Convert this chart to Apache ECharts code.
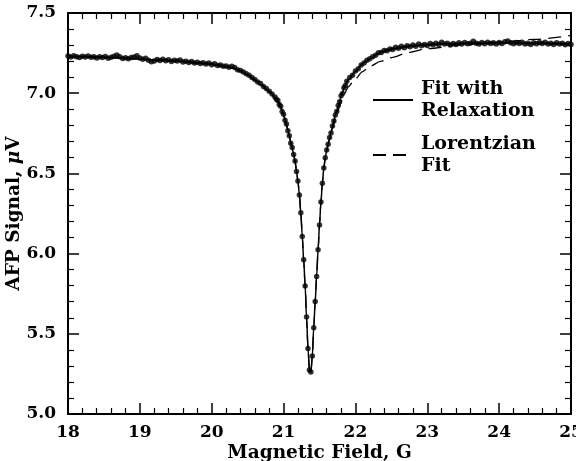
<!DOCTYPE html>
<html>
<head>
<meta charset="utf-8">
<script src="https://cdn.jsdelivr.net/npm/echarts@6/dist/echarts.min.js"></script>
<style>html,body{margin:0;padding:0;background:#fff}#c{width:576px;height:461px}</style>
</head>
<body>
<div id="c"></div>
<script>
// ---- data ----
var xTicks = [18, 19, 20, 21, 22, 23, 24, 25];
var yTicks = ['5.0', '5.5', '6.0', '6.5', '7.0', '7.5'];

var dataField = [
18.00,18.04,18.08,18.12,18.16,18.20,18.24,18.28,18.32,18.36,18.40,18.44,18.48,18.52,18.56,18.60,18.64,18.68,18.72,18.76,
18.80,18.84,18.88,18.92,18.96,19.00,19.04,19.08,19.12,19.16,19.20,19.24,19.28,19.32,19.36,19.40,19.44,19.48,19.52,19.56,
19.60,19.64,19.68,19.72,19.76,19.80,19.84,19.88,19.92,19.96,20.00,20.04,20.08,20.12,20.16,20.20,20.24,20.28,20.32,20.36,
20.40,20.44,20.48,20.52,20.56,20.60,20.64,20.68,20.72,20.76,20.80,20.84,20.88,
20.90,20.92,20.94,20.96,20.98,21.00,21.02,21.04,21.06,21.08,21.10,21.12,21.14,21.16,21.18,21.20,21.22,21.24,21.26,21.28,
21.30,21.32,21.34,21.36,21.38,21.40,21.42,21.44,21.46,21.48,21.50,21.52,21.54,21.56,21.58,21.60,21.62,21.64,21.66,21.68,
21.70,21.72,21.74,21.76,21.78,21.80,21.82,21.84,21.86,21.88,
21.92,21.96,22.00,22.04,22.08,22.12,22.16,22.20,22.24,22.28,22.32,22.36,22.40,22.44,22.48,22.52,22.56,22.60,22.64,22.68,
22.72,22.76,22.80,22.84,22.88,22.92,22.96,23.00,23.04,23.08,23.12,23.16,23.20,23.24,23.28,23.32,23.36,23.40,23.44,23.48,
23.52,23.56,23.60,23.64,23.68,23.72,23.76,23.80,23.84,23.88,23.92,23.96,24.00,24.04,24.08,24.12,24.16,24.20,24.24,24.28,
24.32,24.36,24.40,24.44,24.48,24.52,24.56,24.60,24.64,24.68,24.72,24.76,24.80,24.84,24.88,24.92,24.96,25.00
];
var dataSignal = [
7.232,7.226,7.234,7.228,7.222,7.230,7.225,7.232,7.224,7.228,7.219,7.227,7.222,7.229,7.218,7.224,7.230,7.238,7.228,7.216,
7.221,7.214,7.222,7.226,7.234,7.219,7.212,7.218,7.206,7.196,7.201,7.210,7.204,7.211,7.203,7.208,7.198,7.205,7.200,7.207,
7.194,7.199,7.192,7.197,7.188,7.193,7.185,7.190,7.182,7.188,7.178,7.184,7.172,7.176,7.168,7.170,7.162,7.168,7.160,7.146,
7.142,7.132,7.122,7.112,7.098,7.086,7.070,7.060,7.042,7.030,7.012,6.995,6.976,
6.962,6.955,6.930,6.918,6.886,6.868,6.832,6.808,6.766,6.734,6.688,6.662,6.618,6.578,6.512,6.452,6.366,6.254,6.106,5.962,
5.798,5.604,5.408,5.274,5.262,5.362,5.538,5.702,5.858,6.024,6.178,6.322,6.438,6.534,6.598,6.646,6.682,6.724,6.752,6.796,
6.826,6.864,6.886,6.924,6.946,6.984,6.998,7.034,7.048,7.074,
7.098,7.112,7.138,7.152,7.176,7.188,7.206,7.214,7.228,7.236,7.252,7.254,7.266,7.264,7.276,7.272,7.286,7.280,7.292,7.284,
7.296,7.290,7.300,7.292,7.306,7.296,7.304,7.298,7.310,7.302,7.312,7.304,7.318,7.306,7.312,7.300,7.310,7.304,7.314,7.306,
7.316,7.308,7.312,7.324,7.312,7.306,7.316,7.308,7.318,7.310,7.314,7.306,7.316,7.310,7.320,7.326,7.314,7.308,7.316,7.310,
7.318,7.306,7.312,7.304,7.314,7.308,7.316,7.310,7.318,7.306,7.312,7.304,7.314,7.306,7.312,7.302,7.310,7.304
];

var fitField = [
18.0,18.2,18.4,18.6,18.8,19.0,19.2,19.4,19.6,19.8,20.0,20.1,20.2,20.3,20.4,20.5,20.6,20.7,20.8,20.9,
20.92,20.94,20.96,20.98,21.00,21.02,21.04,21.06,21.08,21.10,21.12,21.14,21.16,21.18,21.20,21.22,21.24,21.26,21.28,21.30,
21.32,21.34,21.36,21.38,21.40,21.42,21.44,21.46,21.48,21.50,21.52,21.54,21.56,21.58,21.60,21.62,21.64,21.66,21.68,21.70,
21.72,21.74,21.76,21.78,21.80,21.82,21.84,21.86,21.88,21.90,
22.0,22.1,22.2,22.35,22.5,22.75,23.0,23.5,24.0,24.5,25.0
];
var relaxFit = [
7.230,7.228,7.225,7.222,7.218,7.213,7.208,7.203,7.197,7.189,7.180,7.174,7.166,7.156,7.140,7.115,7.082,7.050,7.010,6.965,
6.950,6.933,6.914,6.890,6.865,6.836,6.805,6.770,6.732,6.692,6.658,6.620,6.575,6.515,6.450,6.368,6.252,6.110,5.960,5.800,
5.600,5.410,5.272,5.262,5.360,5.540,5.700,5.858,6.022,6.180,6.320,6.440,6.532,6.600,6.645,6.684,6.722,6.756,6.794,6.828,
6.862,6.890,6.922,6.948,6.980,7.002,7.030,7.050,7.070,7.085,
7.135,7.183,7.215,7.255,7.275,7.292,7.302,7.310,7.313,7.312,7.308
];
var lorentzFit = [
7.228,7.227,7.225,7.222,7.218,7.213,7.208,7.203,7.197,7.189,7.180,7.174,7.166,7.156,7.140,7.115,7.082,7.050,7.010,6.965,
6.950,6.933,6.914,6.890,6.865,6.836,6.805,6.770,6.732,6.692,6.658,6.620,6.575,6.515,6.450,6.368,6.252,6.110,5.960,5.800,
5.600,5.410,5.272,5.262,5.360,5.540,5.700,5.858,6.022,6.180,6.320,6.440,6.530,6.596,6.640,6.678,6.712,6.748,6.780,6.810,
6.840,6.866,6.894,6.918,6.946,6.966,6.988,7.006,7.024,7.040,
7.090,7.135,7.168,7.198,7.222,7.255,7.278,7.302,7.318,7.336,7.360
];
var legendNames = ['Fit with\nRelaxation', 'Lorentzian\nFit'];

// ---- build ----
function pairs(xs, ys) { return xs.map(function (x, i) { return [x, ys[i]]; }); }
var FONT = 'DejaVu Serif';
var chart = echarts.init(document.getElementById('c'), null, { renderer: 'canvas' });

function xAx(pos, show) {
  return {
    type: 'value', position: pos, min: 18, max: 25, interval: 1,
    axisLine: { show: true, onZero: false, lineStyle: { color: '#000', width: 2 } },
    axisTick: { show: true, inside: true, length: 11, lineStyle: { color: '#000', width: 1.5 } },
    minorTick: { show: true, splitNumber: 5, length: 6, lineStyle: { color: '#000', width: 1.2 } },
    splitLine: { show: false },
    axisLabel: { show: show, color: '#000', fontFamily: FONT, fontSize: 17, fontWeight: 'bold', margin: 10,
      formatter: function (v) { return xTicks.indexOf(v) >= 0 ? String(v) : ''; } },
    name: show ? 'Magnetic Field, G' : '', nameLocation: 'middle', nameGap: 30, nameMoveOverlap: false,
    nameTextStyle: { color: '#000', fontFamily: FONT, fontSize: 18.5, fontWeight: 'bold' }
  };
}
function yAx(pos, show) {
  return {
    type: 'value', position: pos, min: 5, max: 7.5, interval: 0.5,
    axisLine: { show: true, onZero: false, lineStyle: { color: '#000', width: 2 } },
    axisTick: { show: true, inside: true, length: 11, lineStyle: { color: '#000', width: 1.5 } },
    minorTick: { show: true, splitNumber: 5, length: 6, lineStyle: { color: '#000', width: 1.2 } },
    splitLine: { show: false },
    axisLabel: { show: show, color: '#000', fontFamily: FONT, fontSize: 17, fontWeight: 'bold', margin: 12,
      formatter: function (v) { var s = v.toFixed(1); return yTicks.indexOf(s) >= 0 ? s : ''; } },
    name: show ? 'AFP Signal, {i|μ}V' : '', nameLocation: 'middle', nameGap: 44, nameMoveOverlap: false,
    nameTextStyle: { color: '#000', fontFamily: FONT, fontSize: 18.5, fontWeight: 'bold',
      rich: { i: { fontStyle: 'italic', fontFamily: FONT, fontSize: 18.5, fontWeight: 'bold', color: '#000' } } }
  };
}

chart.setOption({
  animation: false,
  backgroundColor: '#fff',
  grid: { left: 68, right: 5, top: 13, bottom: 47, containLabel: false, outerBoundsMode: 'none' },
  xAxis: [xAx('bottom', true), xAx('top', false)],
  yAxis: [yAx('left', true), yAx('right', false)],
  legend: {
    orient: 'vertical', left: 372, top: 78, padding: 0, itemWidth: 40, itemHeight: 14, itemGap: 11,
    selectedMode: false,
    itemStyle: { opacity: 0 },
    data: [{ name: legendNames[0] }, { name: legendNames[1] }],
    textStyle: { color: '#000', fontFamily: FONT, fontSize: 19, fontWeight: 'bold', lineHeight: 22, padding: [0, 0, 0, 3] }
  },
  series: [
    { type: 'scatter', name: 'data', data: pairs(dataField, dataSignal), symbol: 'circle', symbolSize: 5.5,
      itemStyle: { color: '#000' }, z: 2, silent: true },
    { type: 'line', name: legendNames[0], data: pairs(fitField, relaxFit), symbol: 'none', showSymbol: false,
      smooth: 0.3, smoothMonotone: 'x', lineStyle: { color: '#000', width: 1.5, type: 'solid' },
      itemStyle: { color: '#000' }, z: 3 },
    { type: 'line', name: legendNames[1], data: pairs(fitField, lorentzFit), symbol: 'none', showSymbol: false,
      smooth: 0.3, smoothMonotone: 'x', lineStyle: { color: '#000', width: 1.3, type: [13, 7] },
      itemStyle: { color: '#000' }, z: 4 }
  ]
});
</script>
</body>
</html>
